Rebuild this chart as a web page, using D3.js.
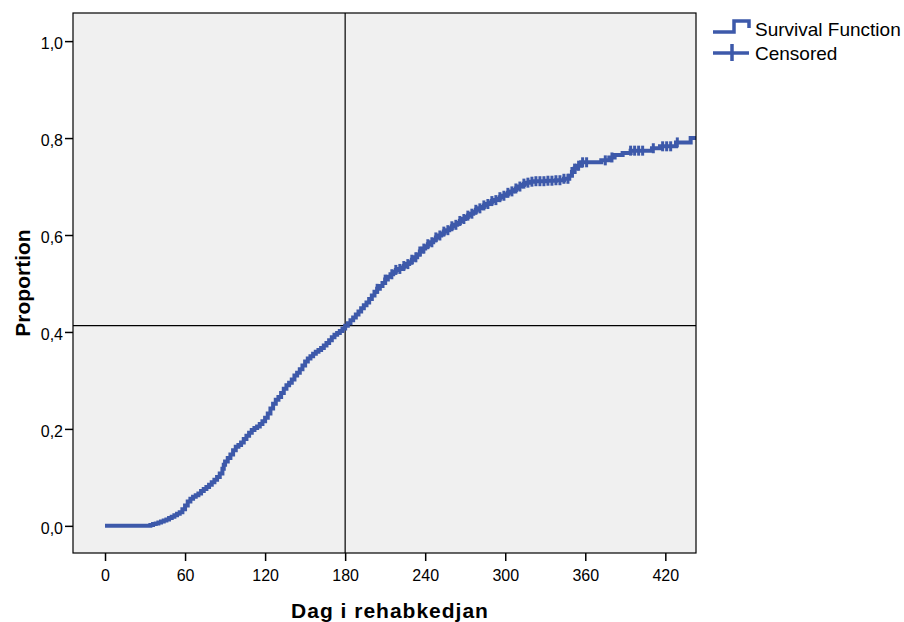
<!DOCTYPE html>
<html>
<head>
<meta charset="utf-8">
<script src="https://cdn.jsdelivr.net/npm/d3@7"></script>
<style>
  body { margin: 0; background: #fff; }
  text { font-family: "Liberation Sans", Arial, sans-serif; }
</style>
</head>
<body>
<div id="chart"></div>
<script>

// cumulative event proportion (1 - survival)
var eventDays = [0, 34, 36, 38, 40, 42, 44, 46, 48, 50, 52, 54, 56, 58, 60, 62, 64, 66, 68, 70,
  72, 74, 76, 78, 80, 82, 84, 86, 88, 89, 90, 92, 94, 96, 98, 100, 102, 104, 106, 108, 110, 112,
  114, 116, 118, 120, 122, 124, 126, 128, 130, 132, 134, 136, 138, 140, 142, 144, 146, 148, 150,
  152, 154, 156, 158, 160, 162, 164, 166, 168, 170, 172, 174, 176, 178, 180, 182, 184, 186, 188,
  190, 192, 194, 196, 198, 200, 202, 204, 206, 208, 210, 212, 214, 216, 218, 220, 222, 224, 226,
  228, 230, 232, 234, 236, 238, 240, 242, 244, 246, 248, 250, 252, 254, 256, 258, 260, 262, 264,
  266, 268, 270, 272, 274, 276, 278, 280, 282, 284, 286, 288, 290, 292, 294, 296, 298, 300, 302,
  304, 306, 308, 310, 312, 314, 316, 318, 322, 330, 338, 344, 348, 350, 352, 354, 357, 372, 378,
  382, 388, 394, 410, 416, 428, 439];
var eventProp = [0, 0.002, 0.004, 0.005, 0.007, 0.009, 0.011, 0.013, 0.016, 0.019, 0.022, 0.025,
  0.028, 0.034, 0.042, 0.050, 0.056, 0.060, 0.063, 0.067, 0.072, 0.076, 0.080, 0.085, 0.090,
  0.095, 0.101, 0.108, 0.118, 0.126, 0.133, 0.140, 0.147, 0.156, 0.163, 0.167, 0.172, 0.179,
  0.186, 0.192, 0.198, 0.202, 0.205, 0.210, 0.216, 0.223, 0.232, 0.242, 0.252, 0.260, 0.266,
  0.274, 0.283, 0.290, 0.295, 0.302, 0.310, 0.316, 0.323, 0.331, 0.339, 0.345, 0.350, 0.355,
  0.359, 0.363, 0.367, 0.372, 0.377, 0.383, 0.389, 0.394, 0.398, 0.402, 0.407, 0.413, 0.418,
  0.424, 0.430, 0.436, 0.442, 0.449, 0.455, 0.461, 0.468, 0.475, 0.483, 0.489, 0.495, 0.501,
  0.508, 0.514, 0.519, 0.524, 0.528, 0.530, 0.533, 0.536, 0.540, 0.544, 0.549, 0.554, 0.560,
  0.566, 0.572, 0.577, 0.581, 0.585, 0.590, 0.595, 0.599, 0.603, 0.607, 0.610, 0.614, 0.618,
  0.621, 0.625, 0.629, 0.633, 0.637, 0.640, 0.644, 0.648, 0.652, 0.655, 0.658, 0.661, 0.664,
  0.667, 0.670, 0.672, 0.675, 0.678, 0.681, 0.684, 0.687, 0.690, 0.693, 0.696, 0.700, 0.703,
  0.706, 0.708, 0.710, 0.711, 0.712, 0.713, 0.716, 0.722, 0.730, 0.737, 0.743, 0.750, 0.754,
  0.760, 0.765, 0.769, 0.774, 0.779, 0.783, 0.791, 0.800];
var lastDay = 443;

var censoredDays = [204, 210, 215, 218, 221, 224, 227, 230, 233, 236, 239, 242, 245, 248, 251,
  254, 257, 260, 263, 266, 269, 272, 275, 278, 281, 284, 287, 290, 293, 296, 299, 302, 305, 308,
  311, 314, 317, 320, 323, 326, 329, 332, 335, 338, 341, 344, 347, 350, 352, 355, 358, 361, 375,
  380, 394, 397, 400, 403, 411, 418, 421, 424, 429];

var xTicks = [0, 60, 120, 180, 240, 300, 360, 420];
var yTicks = [0, 0.2, 0.4, 0.6, 0.8, 1.0];
var refDay = 180, refProp = 0.413;

var blue = "#3d59aa";

var margin = { left: 73, right: 208, top: 13, bottom: 69 };
var width = 904 - margin.left - margin.right;
var height = 622 - margin.top - margin.bottom;

var svg = d3.select("#chart").append("svg")
  .attr("width", 904).attr("height", 622);
var g = svg.append("g")
  .attr("transform", "translate(" + margin.left + "," + margin.top + ")");

var x = d3.scaleLinear().domain([-24, lastDay]).range([0, width]);
var y = d3.scaleLinear().domain([-0.056, 1.058]).range([height, 0]);

g.append("rect").attr("width", width).attr("height", height).attr("fill", "#f0f0f0");

// reference lines
g.append("line").attr("x1", x(refDay)).attr("x2", x(refDay)).attr("y1", 0).attr("y2", height)
  .attr("stroke", "#000").attr("stroke-width", 1.2);
g.append("line").attr("x1", 0).attr("x2", width).attr("y1", y(refProp)).attr("y2", y(refProp))
  .attr("stroke", "#000").attr("stroke-width", 1.2);

var pts = eventDays.map(function (d, i) { return [d, eventProp[i]]; });
pts.push([lastDay, eventProp[eventProp.length - 1]]);

var line = d3.line()
  .x(function (d) { return x(d[0]); })
  .y(function (d) { return y(d[1]); })
  .curve(d3.curveStepAfter);

g.append("path").datum(pts)
  .attr("d", line)
  .attr("fill", "none")
  .attr("stroke", blue)
  .attr("stroke-width", 4);

function propAt(day) {
  var i = d3.bisectRight(eventDays, day) - 1;
  return eventProp[Math.max(0, i)];
}

g.selectAll(".cens").data(censoredDays).enter().append("line")
  .attr("class", "cens")
  .attr("x1", function (d) { return x(d); })
  .attr("x2", function (d) { return x(d); })
  .attr("y1", function (d) { return y(propAt(d)) - 5; })
  .attr("y2", function (d) { return y(propAt(d)) + 5; })
  .attr("stroke", blue)
  .attr("stroke-width", 3);

g.append("rect").attr("width", width).attr("height", height)
  .attr("fill", "none").attr("stroke", "#000").attr("stroke-width", 1.2);

// axes
var xAxis = d3.axisBottom(x).tickValues(xTicks).tickSize(8).tickSizeOuter(0)
  .tickFormat(d3.format("d"));
var yAxis = d3.axisLeft(y).tickValues(yTicks).tickSize(8).tickSizeOuter(0)
  .tickFormat(function (d) { return d3.format(".1f")(d).replace(".", ","); });

var gx = g.append("g").attr("transform", "translate(0," + height + ")").call(xAxis);
var gy = g.append("g").call(yAxis);
[gx, gy].forEach(function (a) {
  a.select(".domain").remove();
  a.selectAll("line").attr("stroke", "#000").attr("stroke-width", 1.5);
  a.selectAll("text").attr("fill", "#000").style("font-size", "16px")
    .style("font-family", "'Liberation Sans', Arial, sans-serif");
});
gx.selectAll("text").attr("dy", "1.05em");
gy.selectAll("text").attr("x", -10).attr("dy", "0.45em");

svg.append("text")
  .attr("x", 390).attr("y", 618)
  .attr("text-anchor", "middle")
  .style("font-size", "21px").style("font-weight", "bold").style("letter-spacing", "1px")
  .text("Dag i rehabkedjan");

svg.append("text")
  .attr("transform", "translate(30,283) rotate(-90)")
  .attr("text-anchor", "middle")
  .style("font-size", "21px").style("font-weight", "bold")
  .text("Proportion");

// legend
var lg = svg.append("g");
lg.append("path")
  .attr("d", "M713,32 H734 V21 H749 V28")
  .attr("fill", "none").attr("stroke", blue).attr("stroke-width", 3.5);
lg.append("text").attr("x", 755).attr("y", 36).style("font-size", "19px").text("Survival Function");
lg.append("line").attr("x1", 713).attr("x2", 749).attr("y1", 53).attr("y2", 53)
  .attr("stroke", blue).attr("stroke-width", 3.5);
lg.append("line").attr("x1", 732).attr("x2", 732).attr("y1", 44).attr("y2", 61)
  .attr("stroke", blue).attr("stroke-width", 3.5);
lg.append("text").attr("x", 755).attr("y", 60).style("font-size", "19px").text("Censored");

</script>
</body>
</html>
